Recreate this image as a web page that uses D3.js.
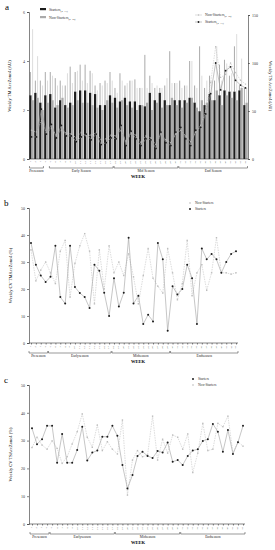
<!DOCTYPE html>
<html>
<head>
<meta charset="utf-8">
<script src="https://cdn.jsdelivr.net/npm/d3@7"></script>
<style>
  body { margin: 0; background: #fff; }
  svg { display: block; font-family: "Liberation Serif", "DejaVu Serif", serif; }
</style>
</head>
<body>
<svg id="chart" width="275" height="550"></svg>
<script>
// ---- data ----
// panel a: weekly TM Acc zone4 (bars, left axis) and TS Acc zone4 (lines, right axis)
var weeksA = d3.range(1, 45);
var tmStarters = [2.6,2.7,2.3,2.6,2.65,2.1,2.4,2.2,2.3,2.75,2.8,2.8,2.7,2.65,2.2,2.2,2.6,2.5,2.35,2.5,2.35,2.35,2.2,2.15,2.7,2.4,2.7,2.4,2.2,2.4,2.4,2.4,2.5,2.3,1.95,2.2,2.65,2.4,2.6,2.8,2.75,2.75,2.8,2.2];
var tmStartersSd = [0.95,0.5,0.9,0.95,0.9,1.2,0.8,0.8,1.47,0.8,1.05,1.05,0.9,0.35,0.9,1.0,0.95,0.4,1.15,0.5,0.85,0.9,0.7,2.1,0.7,0.5,0.2,0.6,2.2,0.7,0.8,0.6,1.5,0.7,2.65,0.7,0.75,0.8,1.25,1.25,0.65,1.85,0.2,0.7];
var tmNonStarters = [2.4,2.5,2.0,2.3,2.4,2.2,2.5,2.1,2.2,2.4,2.3,2.3,2.2,2.1,2.0,2.4,2.3,2.1,2.4,2.2,2.1,2.0,2.2,2.3,2.0,2.3,2.1,2.2,2.5,2.2,2.1,2.3,2.5,2.1,2.4,2.3,2.4,2.8,2.2,2.6,2.5,2.4,2.9,2.3];
var tmNonStartersSd = [2.9,1.7,1.0,0.9,1.0,0.8,0.5,1.4,0.9,1.2,0.9,0.8,1.3,0.7,1.0,0.7,0.9,0.6,0.8,0.9,1.1,0.9,0.7,0.6,1.1,0.7,0.8,1.1,0.6,0.9,0.8,0.7,1.5,0.8,1.0,0.9,0.8,1.8,1.0,1.3,1.0,2.7,1.2,0.6];
var tsStarters = [23,23,52,26,36,22,35,24,24,18,23,26,20,26,15,17,22,21,35,14,29,21,14,21,20,11,28,17,14,28,33,21,14,30,33,47,68,100,72,92,96,82,77,74];
var tsNonStarters = [30,28,40,27,32,25,30,27,26,22,28,24,25,27,20,21,25,24,30,18,27,25,17,24,22,15,26,20,17,26,30,24,18,28,35,50,80,117,85,88,100,90,82,78];

// panel b: weekly CV of TM Acc zone4 (%)
var weeksB = d3.range(1, 44);
var cvTmStarters = [37,29,25,22.6,24.5,36,17,14.6,36,20.7,18.5,17,13,29,26.8,18.6,10,24,13.5,18.6,39,14.6,17.5,7,10.5,8,37,31,4.5,21,18,20,29,24,7,35,31,33,31,26,30,33,34];
var cvTmNonStarters = [34.5,23,27,30,26,22,34,38,17,29.5,36,40.5,34,14.5,34.5,20,36,26,30,25,33,24.5,14.5,25,35,24,21,18.5,35,26,16,22,38,17.5,26,29,19.5,26,39,26,26,25.5,26];

// panel c: weekly CV of TS Acc zone4 (%)
var weeksC = d3.range(1, 44);
var cvTsStarters = [34.4,28.7,30.5,35.3,35.3,22,32.4,22,22,26.6,35,22.8,25.7,26.4,31.4,31.4,35.3,31.7,21.2,12.8,17.6,24.5,26,24.5,23.7,26.3,25.7,29.3,22.4,23,21.2,24.5,26.4,26.9,29.9,30.5,36,33.2,26,33.8,25.2,29.4,35.3];
var cvTsNonStarters = [27.5,31.2,28.4,26.9,29.9,27.2,21.8,24.2,28.8,33.2,39.6,31.2,27.6,35.6,26.4,29.6,26.9,25.2,37.4,10.4,23,26.4,24.2,24.8,38.8,23,30.5,25.5,32,31.2,26.9,32.4,18.5,25.5,36.2,26.4,26.9,36.2,35,38.8,25.5,29.6,28];

var cvTicks = [0, 10, 20, 30, 40, 50];

var seasonsA = [["Preseason", 1, 3], ["Early Season", 5, 17], ["Mid Season", 18, 30], ["End Season", 31, 44]];
var seasonsB = [["Preseason", 1, 4], ["Earlyseason", 5, 17], ["Midseason", 18, 29], ["Endseason", 30, 43]];
var seasonsC = [["Preseason", 1, 4], ["Earlyseason", 5, 17], ["Midseason", 18, 30], ["Endseason", 31, 43]];

var svg = d3.select("#chart");
var dark = "#1c1c1c", grey = "#aaaaaa", lineGrey = "#9a9a9a";

// small helper for the season brackets under the week ticks
function seasons(g, x, list, y, half) {
  list.forEach(function(s) {
    var x0 = x(s[1]) - half, x1 = x(s[2]) + half;
    g.append("path")
      .attr("d", "M" + x0 + "," + (y - 2) + "V" + y + "H" + x1 + "V" + (y - 2))
      .attr("fill", "none").attr("stroke", "#333").attr("stroke-width", 0.5);
    g.append("text")
      .attr("x", (x0 + x1) / 2).attr("y", y + 4)
      .attr("text-anchor", "middle").attr("font-size", 3.6).attr("fill", "#222")
      .text(s[0]);
  });
}

function weekLabels(g, x, weeks, y) {
  g.selectAll(null).data(weeks).enter().append("text")
    .attr("transform", function(d) { return "translate(" + (x(d) + 1) + "," + y + ") rotate(-90)"; })
    .attr("text-anchor", "end").attr("font-size", 2.8).attr("fill", "#555")
    .text(function(d) { return d; });
}

function styleAxis(g) {
  g.selectAll("path, line").attr("stroke", "#333").attr("stroke-width", 0.6);
  g.selectAll("text").attr("font-size", 4).attr("fill", "#333")
    .attr("font-family", "Liberation Serif, serif");
}

// ================= panel a =================
var xA = d3.scaleBand().domain(weeksA).range([29, 248]).paddingInner(0.1).paddingOuter(0.05);
var yA = d3.scaleLinear().domain([0, 6]).range([159, 12]);
var yA2 = d3.scaleLinear().domain([0, 150]).range([159, 15]);
var bw = xA.bandwidth() / 2;

var a = svg.append("g");

// error bars first, bars on top
a.selectAll(null).data(weeksA).enter().append("line")
  .attr("x1", function(d) { return xA(d) + bw / 2; })
  .attr("x2", function(d) { return xA(d) + bw / 2; })
  .attr("y1", function(d, i) { return yA(tmStarters[i]); })
  .attr("y2", function(d, i) { return yA(tmStarters[i] + tmStartersSd[i]); })
  .attr("stroke", "#555").attr("stroke-width", 0.5);
a.selectAll(null).data(weeksA).enter().append("line")
  .attr("x1", function(d) { return xA(d) + bw * 1.5; })
  .attr("x2", function(d) { return xA(d) + bw * 1.5; })
  .attr("y1", function(d, i) { return yA(tmNonStarters[i]); })
  .attr("y2", function(d, i) { return yA(tmNonStarters[i] + tmNonStartersSd[i]); })
  .attr("stroke", "#bbb").attr("stroke-width", 0.5);

a.selectAll(null).data(weeksA).enter().append("rect")
  .attr("x", function(d) { return xA(d); })
  .attr("y", function(d, i) { return yA(tmStarters[i]); })
  .attr("width", bw)
  .attr("height", function(d, i) { return yA(0) - yA(tmStarters[i]); })
  .attr("fill", dark);
a.selectAll(null).data(weeksA).enter().append("rect")
  .attr("x", function(d) { return xA(d) + bw; })
  .attr("y", function(d, i) { return yA(tmNonStarters[i]); })
  .attr("width", bw)
  .attr("height", function(d, i) { return yA(0) - yA(tmNonStarters[i]); })
  .attr("fill", grey);

// TS lines on the right axis
var lineA = function(vals) {
  return d3.line()
    .x(function(d) { return xA(d) + xA.bandwidth() / 2; })
    .y(function(d, i) { return yA2(vals[i]); })(weeksA);
};
a.append("path").attr("d", lineA(tsNonStarters))
  .attr("fill", "none").attr("stroke", "#c8c8c8").attr("stroke-width", 0.6).attr("stroke-dasharray", "1.5,1");
a.selectAll(null).data(weeksA).enter().append("circle")
  .attr("cx", function(d) { return xA(d) + xA.bandwidth() / 2; })
  .attr("cy", function(d, i) { return yA2(tsNonStarters[i]); })
  .attr("r", 0.7).attr("fill", "#bbb");
a.append("path").attr("d", lineA(tsStarters))
  .attr("fill", "none").attr("stroke", lineGrey).attr("stroke-width", 0.6);
a.selectAll(null).data(weeksA).enter().append("circle")
  .attr("cx", function(d) { return xA(d) + xA.bandwidth() / 2; })
  .attr("cy", function(d, i) { return yA2(tsStarters[i]); })
  .attr("r", 0.9).attr("fill", dark);

// axes
a.append("g").attr("transform", "translate(29,0)")
  .call(d3.axisLeft(yA).tickValues([0, 2, 4, 6]).tickSize(2).tickPadding(2).tickFormat(d3.format("d")))
  .call(styleAxis);
a.append("g").attr("transform", "translate(248,0)")
  .call(d3.axisRight(yA2).tickValues([0, 50, 100, 150]).tickSize(2).tickPadding(2))
  .call(styleAxis);
a.append("line").attr("x1", 29).attr("x2", 248).attr("y1", 159).attr("y2", 159)
  .attr("stroke", "#333").attr("stroke-width", 0.6);
weekLabels(a, function(d) { return xA(d) + xA.bandwidth() / 2 - 1; }, weeksA, 161);
seasons(a, function(d) { return xA(d) + xA.bandwidth() / 2; }, seasonsA, 168, 2);
a.append("text").attr("x", 138).attr("y", 178).attr("text-anchor", "middle")
  .attr("font-size", 4.5).attr("font-weight", "bold").text("WEEK");
a.append("text").attr("x", 5).attr("y", 10).attr("font-size", 9).text("a");
a.append("text").attr("transform", "translate(11,86) rotate(-90)").attr("text-anchor", "middle")
  .attr("font-size", 4.5).text("Weekly TM AccZone4 (AU)");
a.append("text").attr("transform", "translate(269,86) rotate(90)").attr("text-anchor", "middle")
  .attr("font-size", 4.5).text("Weekly TS AccZone4 (AU)");

// legends
function legendText(g, x, y, main, sub) {
  var t = g.append("text").attr("x", x).attr("y", y).attr("font-size", 3.8).attr("fill", "#333");
  t.append("tspan").text(main);
  t.append("tspan").attr("font-size", 2.6).attr("dy", 1).text(sub);
}
a.append("rect").attr("x", 40).attr("y", 8).attr("width", 6).attr("height", 2.2).attr("fill", dark);
legendText(a, 49, 10.5, "Starters", "(n=11)");
a.append("rect").attr("x", 40).attr("y", 16).attr("width", 6).attr("height", 2.2).attr("fill", grey);
legendText(a, 49, 18.5, "Non-Starters", "(n=10)");
a.append("line").attr("x1", 195).attr("x2", 202).attr("y1", 15).attr("y2", 15)
  .attr("stroke", "#c8c8c8").attr("stroke-width", 0.6);
a.append("circle").attr("cx", 198.5).attr("cy", 15).attr("r", 0.7).attr("fill", "#bbb");
legendText(a, 205, 16.3, "Non-Starters", "(n=10)");
a.append("line").attr("x1", 195).attr("x2", 202).attr("y1", 22).attr("y2", 22)
  .attr("stroke", lineGrey).attr("stroke-width", 0.6);
a.append("circle").attr("cx", 198.5).attr("cy", 22).attr("r", 0.9).attr("fill", dark);
legendText(a, 205, 23.3, "Starters", "(n=11)");

// ================= panels b and c =================
function cvPanel(opts) {
  var g = svg.append("g");
  var x = d3.scalePoint().domain(opts.weeks).range([opts.x0, opts.x1]);
  var y = d3.scaleLinear().domain([0, 50]).range([opts.yBase, opts.yTop]);

  g.append("g").attr("transform", "translate(29,0)")
    .call(d3.axisLeft(y).tickValues(cvTicks).tickSize(2).tickPadding(2))
    .call(styleAxis);
  g.append("g").attr("transform", "translate(0," + opts.yBase + ")")
    .call(d3.axisBottom(x).tickSize(1.5).tickFormat(""))
    .call(styleAxis)
    .call(function(s) { s.select(".domain").attr("d", "M29,0H" + (opts.x1 + 2)); });

  var mk = function(vals) {
    return d3.line().x(function(d) { return x(d); }).y(function(d, i) { return y(vals[i]); })(opts.weeks);
  };
  g.append("path").attr("d", mk(opts.nonStarters))
    .attr("fill", "none").attr("stroke", "#c4c4c4").attr("stroke-width", 0.6).attr("stroke-dasharray", "1.5,1");
  g.append("path").attr("d", mk(opts.starters))
    .attr("fill", "none").attr("stroke", "#a0a0a0").attr("stroke-width", 0.6);
  g.selectAll(null).data(opts.weeks).enter().append("rect")
    .attr("x", function(d) { return x(d) - 0.7; })
    .attr("y", function(d, i) { return y(opts.nonStarters[i]) - 0.7; })
    .attr("width", 1.4).attr("height", 1.4).attr("fill", "#bdbdbd");
  g.selectAll(null).data(opts.weeks).enter().append("circle")
    .attr("cx", function(d) { return x(d); })
    .attr("cy", function(d, i) { return y(opts.starters[i]); })
    .attr("r", 1).attr("fill", dark);

  weekLabels(g, function(d) { return x(d) - 0.6; }, opts.weeks, opts.yBase + 3);
  seasons(g, x, opts.seasons, opts.yBase + 10, 2);
  g.append("text").attr("x", 138).attr("y", opts.yBase + 20).attr("text-anchor", "middle")
    .attr("font-size", 4.5).attr("font-weight", "bold").text("WEEK");
  g.append("text").attr("x", 4).attr("y", opts.yTop - 2).attr("font-size", 9).text(opts.letter);
  g.append("text").attr("transform", "translate(12," + ((opts.yTop + opts.yBase) / 2) + ") rotate(-90)")
    .attr("text-anchor", "middle").attr("font-size", 4.5).text(opts.title);

  // legend
  opts.legend.forEach(function(l, i) {
    var ly = opts.legendY + i * 6;
    if (l[1] === "s") {
      g.append("circle").attr("cx", opts.legendX).attr("cy", ly).attr("r", 1).attr("fill", dark);
    } else {
      g.append("rect").attr("x", opts.legendX - 0.7).attr("y", ly - 0.7)
        .attr("width", 1.4).attr("height", 1.4).attr("fill", "#bdbdbd");
    }
    g.append("text").attr("x", opts.legendX + 5).attr("y", ly + 1.2)
      .attr("font-size", 3.6).attr("fill", "#333").text(l[0]);
  });
}

cvPanel({
  letter: "b", weeks: weeksB, starters: cvTmStarters, nonStarters: cvTmNonStarters,
  x0: 31, x1: 236, yBase: 343, yTop: 208, seasons: seasonsB,
  title: "Weekly CV TMAccZone4 (%)",
  legendX: 190, legendY: 203, legend: [["Non-Starters", "n"], ["Starters", "s"]]
});
cvPanel({
  letter: "c", weeks: weeksC, starters: cvTsStarters, nonStarters: cvTsNonStarters,
  x0: 32, x1: 243, yBase: 524, yTop: 385, seasons: seasonsC,
  title: "Weekly CV TSAccZone4 (%)",
  legendX: 193, legendY: 379, legend: [["Starters", "s"], ["Non-Starters", "n"]]
});
</script>
</body>
</html>
